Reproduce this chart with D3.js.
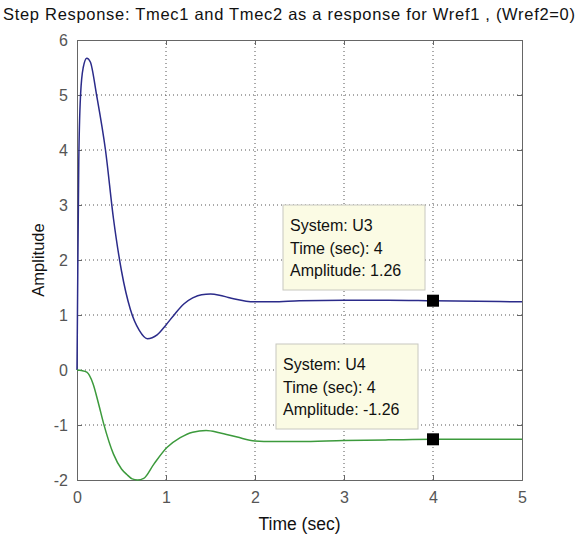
<!DOCTYPE html>
<html>
<head>
<meta charset="utf-8">
<script src="https://cdn.jsdelivr.net/npm/d3@7"></script>
<style>
  body { margin: 0; background: #fff; overflow: hidden; }
  text { font-family: "Liberation Sans", Arial, sans-serif; }
</style>
</head>
<body>
<div id="chart"></div>
<script>
// Step response of U3 (Tmec1) and U4 (Tmec2)
const u3Time = [0, 0.005, 0.02, 0.04, 0.07, 0.11, 0.15, 0.22, 0.32, 0.41, 0.5, 0.6, 0.7, 0.79, 0.9, 1.0, 1.1, 1.2, 1.3, 1.4, 1.5, 1.6, 1.7, 1.8, 1.9, 2.0, 2.2, 2.5, 3, 3.5, 4, 4.5, 5];
const u3Amp = [0, 1.0, 3.8, 5.0, 5.5, 5.67, 5.6, 5.0, 4.0, 2.75, 1.8, 1.1, 0.72, 0.57, 0.64, 0.82, 1.02, 1.2, 1.31, 1.37, 1.38, 1.36, 1.32, 1.28, 1.25, 1.24, 1.24, 1.26, 1.27, 1.27, 1.26, 1.25, 1.24];

const u4Time = [0, 0.05, 0.11, 0.18, 0.24, 0.3, 0.41, 0.5, 0.56, 0.62, 0.68, 0.75, 0.86, 1.01, 1.16, 1.3, 1.45, 1.6, 1.8, 2.0, 2.2, 2.5, 3, 3.5, 4, 4.5, 5];
const u4Amp = [0, -0.01, -0.04, -0.25, -0.6, -0.98, -1.53, -1.8, -1.9, -1.98, -2.0, -1.97, -1.72, -1.41, -1.23, -1.13, -1.1, -1.14, -1.22, -1.29, -1.3, -1.3, -1.28, -1.27, -1.26, -1.26, -1.26];

const xTicks = [0, 1, 2, 3, 4, 5];
const yTicks = [-2, -1, 0, 1, 2, 3, 4, 5, 6];

const tips = [
    {lines: ["System: U3", "Time (sec): 4", "Amplitude: 1.26"], t: 4, a: 1.26, box: [283, 205]},
    {lines: ["System: U4", "Time (sec): 4", "Amplitude: -1.26"], t: 4, a: -1.26, box: [276, 344]}
];

const width = 579;
const height = 538;
const margin = {top: 40, right: 57, bottom: 58, left: 77};

const svg = d3.select("#chart")
    .append("svg")
    .attr("width", width)
    .attr("height", height);

const x = d3.scaleLinear().domain([0, 5]).range([margin.left, width - margin.right]);
const y = d3.scaleLinear().domain([-2, 6]).range([height - margin.bottom, margin.top]);

// grid
svg.append("g")
    .selectAll("line")
    .data(xTicks.slice(1, -1))
    .enter()
    .append("line")
    .attr("x1", d => x(d)).attr("x2", d => x(d))
    .attr("y1", y(-2)).attr("y2", y(6))
    .attr("stroke", "#555")
    .attr("stroke-dasharray", "1,3");

svg.append("g")
    .selectAll("line")
    .data(yTicks.slice(1, -1))
    .enter()
    .append("line")
    .attr("x1", x(0)).attr("x2", x(5))
    .attr("y1", d => y(d)).attr("y2", d => y(d))
    .attr("stroke", "#555")
    .attr("stroke-dasharray", "1,3");

// axes, matlab style ticks inside the box
const fmt = d => String(d);
svg.append("g")
    .attr("transform", "translate(0," + y(-2) + ")")
    .call(d3.axisBottom(x).tickValues(xTicks).tickSize(-5).tickPadding(12).tickFormat(fmt));
svg.append("g")
    .attr("transform", "translate(" + x(0) + ",0)")
    .call(d3.axisLeft(y).tickValues(yTicks).tickSize(-5).tickPadding(9).tickFormat(fmt));
svg.append("g")
    .attr("transform", "translate(0," + y(6) + ")")
    .call(d3.axisTop(x).tickValues(xTicks).tickSize(-5).tickFormat(""));
svg.append("g")
    .attr("transform", "translate(" + x(5) + ",0)")
    .call(d3.axisRight(y).tickValues(yTicks).tickSize(-5).tickFormat(""));

svg.selectAll(".domain").attr("stroke", "#666");
svg.selectAll(".tick line").attr("stroke", "#666");
svg.selectAll(".tick text")
    .attr("fill", "#555")
    .style("font-size", "16px")
    .style("font-family", "'Liberation Sans', Arial, sans-serif");

// curves
const line = d3.line()
    .x(d => x(d[0]))
    .y(d => y(d[1]))
    .curve(d3.curveMonotoneX);

svg.append("path")
    .datum(d3.zip(u3Time, u3Amp))
    .attr("d", line)
    .attr("fill", "none")
    .attr("stroke", "#2b2b8a")
    .attr("stroke-width", 1.5);

svg.append("path")
    .datum(d3.zip(u4Time, u4Amp))
    .attr("d", line)
    .attr("fill", "none")
    .attr("stroke", "#3c9a3c")
    .attr("stroke-width", 1.5);

// data tips
tips.forEach(function (tip) {
    const g = svg.append("g");
    g.append("rect")
        .attr("x", tip.box[0]).attr("y", tip.box[1])
        .attr("width", 142).attr("height", 85)
        .attr("fill", "#fbfbe4")
        .attr("stroke", "#c8c8c0");
    g.selectAll("text")
        .data(tip.lines)
        .enter()
        .append("text")
        .attr("x", tip.box[0] + 7)
        .attr("y", (d, i) => tip.box[1] + 26 + i * 22.5)
        .style("font-size", "16px")
        .attr("fill", "#111")
        .text(d => d);
    svg.append("rect")
        .attr("x", x(tip.t) - 6).attr("y", y(tip.a) - 6)
        .attr("width", 12).attr("height", 12)
        .attr("fill", "#000");
});

// labels
svg.append("text")
    .attr("x", 3)
    .attr("y", 20)
    .attr("textLength", 572)
    .attr("lengthAdjust", "spacing")
    .style("font-size", "16.5px")
    .attr("fill", "#111")
    .text("Step Response: Tmec1 and Tmec2 as a response for Wref1 , (Wref2=0)");

svg.append("text")
    .attr("x", (x(0) + x(5)) / 2)
    .attr("y", 530)
    .attr("text-anchor", "middle")
    .style("font-size", "17.5px")
    .attr("fill", "#111")
    .text("Time (sec)");

svg.append("text")
    .attr("transform", "translate(44," + y(2) + ") rotate(-90)")
    .attr("text-anchor", "middle")
    .style("font-size", "16.5px")
    .attr("fill", "#111")
    .text("Amplitude");
</script>
</body>
</html>
